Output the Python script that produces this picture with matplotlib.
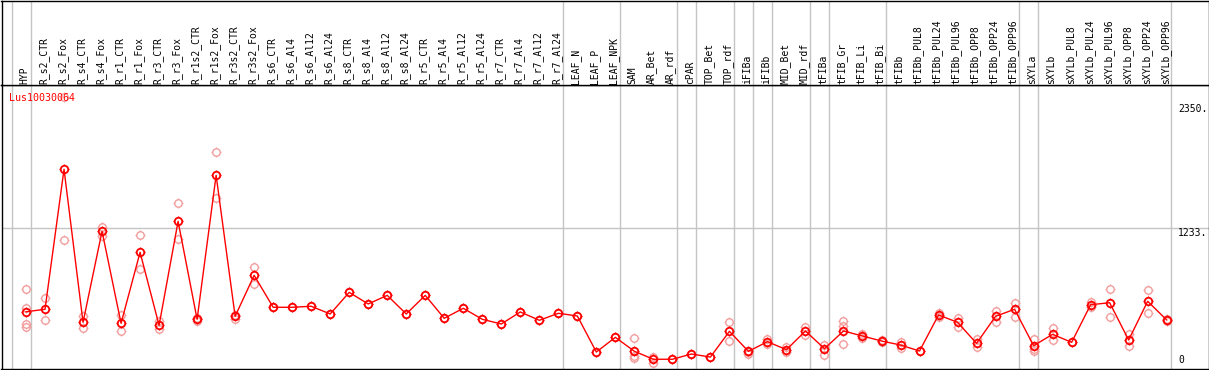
#expression profile chart for one gene across sample groups
import matplotlib.pyplot as plt
from matplotlib.path import Path
import numpy as np

#sample labels in plotting order
labels = ["HYP", "R_s2_CTR", "R_s2_Fox", "R_s4_CTR", "R_s4_Fox", "R_r1_CTR", "R_r1_Fox",
          "R_r3_CTR", "R_r3_Fox", "R_r1s2_CTR", "R_r1s2_Fox", "R_r3s2_CTR", "R_r3s2_Fox",
          "R_s6_CTR", "R_s6_Al4", "R_s6_Al12", "R_s6_Al24", "R_s8_CTR", "R_s8_Al4",
          "R_s8_Al12", "R_s8_Al24", "R_r5_CTR", "R_r5_Al4", "R_r5_Al12", "R_r5_Al24",
          "R_r7_CTR", "R_r7_Al4", "R_r7_Al12", "R_r7_Al24", "LEAF_N", "LEAF_P", "LEAF_NPK",
          "SAM", "AR_Bet", "AR_rdf", "cPAR", "TOP_Bet", "TOP_rdf", "iFIBa", "iFIBb",
          "MID_Bet", "MID_rdf", "tFIBa", "tFIB_Gr", "tFIB_Li", "tFIB_Bi", "tFIBb",
          "tFIBb_PUL8", "tFIBb_PUL24", "tFIBb_PUL96", "tFIBb_OPP8", "tFIBb_OPP24",
          "tFIBb_OPP96", "sXYLa", "sXYLb", "sXYLb_PUL8", "sXYLb_PUL24", "sXYLb_PUL96",
          "sXYLb_OPP8", "sXYLb_OPP24", "sXYLb_OPP96"]

#mean expression per sample (red line)
means = [483, 505, 1763, 388, 1206, 379, 1017, 361, 1295, 415, 1709, 442, 810,
         523, 523, 532, 463, 657, 553, 630, 463, 630, 424, 514, 415, 373, 481, 406, 469,
         445, 121, 253, 128, 56, 56, 103, 76, 307, 127, 214, 142, 310, 151, 310, 265,
         220, 184, 130, 454, 388, 199, 442, 505, 178, 280, 208, 546, 564, 229, 577, 409]

#single replicates (pale circles)
reps = [[685, 514, 370, 343], [604, 409], [2415, 1125], [445, 334], [1247, 1166],
        [454, 307], [1170, 864], [403, 325], [1457, 1134], [430, 403], [1915, 1508],
        [454, 421], [882, 729],
        [523], [523], [532], [463], [657], [553], [630], [463], [630], [424], [514],
        [415], [373], [481], [406], [469], [445], [121], [253],
        [244, 85, 65], [79, 20], [56], [103], [76], [388, 223], [122, 103], [241, 193],
        [163, 118], [346, 271], [184, 94], [400, 352, 190], [286, 244], [229, 211],
        [214, 154], [130], [474, 433], [430, 343], [235, 169], [492, 394], [559, 439],
        [238, 146, 133], [337, 229], [208], [571, 528], [685, 433], [283, 175],
        [676, 469], [403, 415]]

#index of last sample in each tissue group (-1 = left edge)
group_ends = [-1, 0, 28, 31, 34, 35, 37, 38, 39, 41, 42, 45, 52, 53, 60]

#y labels on the right
ytick_vals = [0, 1233, 2350]
ytick_txt = ["0", "1233.", "2350."]
gene = "Lus10030064"

#four short ticks around each circle
tk = Path([(1, 0), (1.35, 0), (-1, 0), (-1.35, 0), (0, 1), (0, 1.35), (0, -1), (0, -1.35)],
          [Path.MOVETO, Path.LINETO] * 4)
d = 5.4  # circle size in points

W, H = 1209, 370
fig = plt.figure(figsize=(W / 100, H / 100), dpi=100)
ax = fig.add_axes([1.5 / W, 1.5 / H, 1207 / W, 283.5 / H])
hax = fig.add_axes([1.5 / W, 285 / H, 1207 / W, 84.5 / H])

mono = "DejaVu Sans Mono"
grey = "#c4c4c4"
x = np.arange(len(labels))

for a in (ax, hax):
    a.set_xlim(-1.289, 62.2)
    a.set_xticks([])
    a.set_yticks([])
    for s in a.spines.values():
        s.set_color("black")
        s.set_linewidth(1)
    for g in group_ends:
        a.axvline(g + 0.25, color=grey, lw=1, zorder=0)
hax.set_ylim(0, 1)
ax.set_ylim(-27, 2520)

ax.axhline(1233, color=grey, lw=1, zorder=0)

#replicates first, then the mean line on top
pink = "#f29c9c"
for i, rv in enumerate(reps):
    ax.plot([i] * len(rv), rv, ls="none", marker="o", ms=d, mfc="none",
            mec=pink, mew=1.0, zorder=2)
    ax.plot([i] * len(rv), rv, ls="none", marker=tk, ms=d * 1.35,
            mec=pink, mew=0.8, zorder=2)
ax.plot(x, means, color="red", lw=1, marker="o", ms=d, mfc="none",
        mec="red", mew=1.3, zorder=3)
ax.plot(x, means, ls="none", marker=tk, ms=d * 1.35, mec="red", mew=0.9, zorder=3)

#sample names in the header
for i, lab in enumerate(labels):
    hax.text(i - 0.08, 0.012, lab, rotation=90, ha="center", va="bottom",
             fontsize=7, family=mono, color="black")

#value labels on the right side
for v, t in zip(ytick_vals, ytick_txt):
    ax.text(0.9747, v, t, transform=ax.get_yaxis_transform(), ha="left",
            va="bottom" if v == 0 else "top", fontsize=7, family=mono)

ax.text(0.0065, 0.972, gene, transform=ax.transAxes, ha="left", va="top",
        fontsize=7.2, family=mono, color="red")

plt.savefig("out.png", dpi=100)
plt.close()
